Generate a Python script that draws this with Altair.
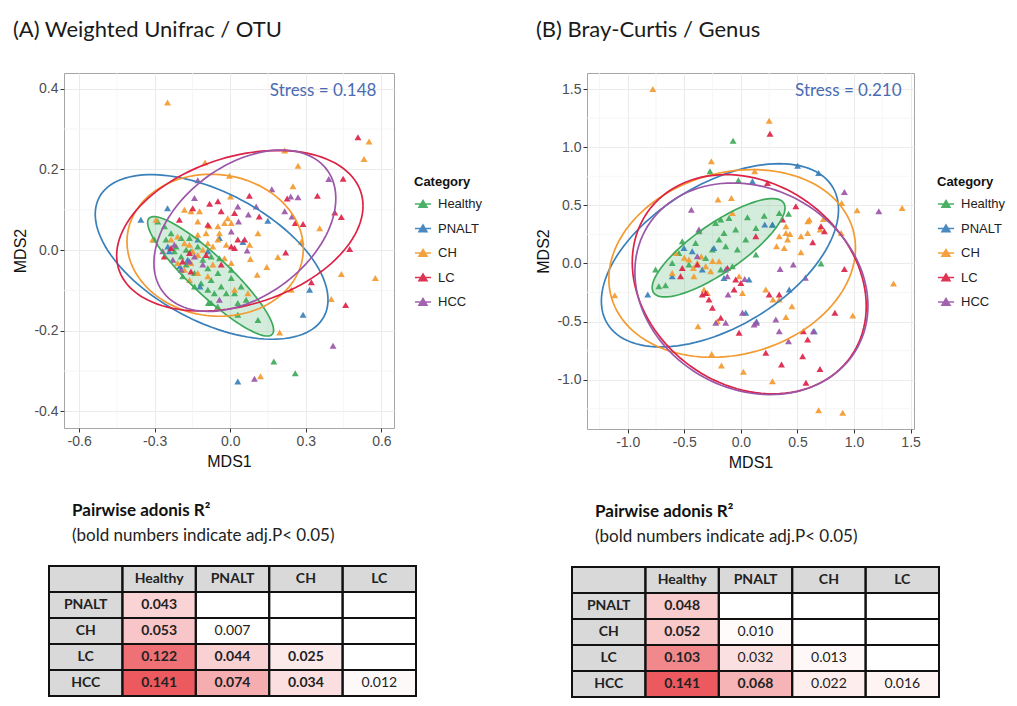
import altair as alt
import pandas as pd

CATS = ["Healthy", "PNALT", "CH", "LC", "HCC"]
COLORS = ["#3DAA5A", "#3A80BA", "#F39A30", "#DC2346", "#9B56A8"]

# ---------------- Panel A: Weighted Unifrac / OTU (MDS1, MDS2) ----------------
A_POINTS = {
    "Healthy": [(-0.261, 0.059), (-0.235, 0.042), (-0.255, 0.026), (-0.215, 0.009), (-0.195, -0.016),
                (-0.175, -0.036), (-0.189, -0.065), (-0.142, -0.057), (-0.109, -0.024), (-0.089, -0.045),
                (-0.076, -0.074), (-0.049, -0.057), (-0.036, -0.090), (0.004, -0.069), (-0.016, -0.107),
                (0.017, -0.107), (0.043, -0.090), (0.030, -0.131), (0.063, -0.123), (-0.089, -0.098),
                (-0.063, -0.107), (-0.142, -0.090), (-0.116, -0.082), (-0.156, -0.003), (-0.175, 0.001),
                (-0.129, 0.009), (-0.076, -0.016), (-0.043, -0.020), (0.004, -0.049), (-0.076, -0.131),
                (0.030, -0.160), (0.110, -0.173), (-0.195, 0.030), (-0.162, 0.030), (-0.222, -0.003),
                (0.173, -0.276), (0.258, -0.305), (-0.301, 0.026), (-0.288, 0.071), (-0.087, -0.131),
                (-0.050, -0.140)],
    "PNALT": [(-0.355, 0.075), (-0.249, 0.104), (0.149, 0.073), (0.315, -0.098), (0.289, -0.160),
              (0.030, -0.326), (-0.242, -0.003), (-0.129, 0.026), (-0.169, -0.024), (-0.248, 0.009),
              (-0.089, -0.003), (-0.043, 0.030), (-0.200, -0.040), (-0.120, -0.090), (0.050, 0.020)],
    "CH": [(-0.249, 0.366), (0.551, 0.269), (0.531, 0.226), (0.216, 0.247), (-0.100, 0.217), (0.269, 0.209),
           (-0.003, 0.184), (0.249, 0.158), (0.001, 0.133), (0.355, 0.054), (0.282, 0.021), (0.189, -0.017),
           (0.080, -0.022), (0.145, -0.042), (0.107, -0.061), (0.441, -0.059), (0.576, -0.069), (0.242, -0.098),
           (0.401, -0.121), (0.196, -0.204), (0.120, -0.313), (-0.295, 0.075), (-0.308, 0.026),
           (-0.235, 0.026), (-0.209, 0.034), (-0.182, 0.017), (-0.162, 0.013), (-0.149, -0.003),
           (-0.129, -0.012), (-0.109, 0.001), (-0.089, 0.017), (-0.069, 0.009), (-0.049, 0.026),
           (-0.043, 0.042), (-0.096, 0.042), (-0.129, 0.038), (-0.156, -0.032), (-0.129, -0.057),
           (-0.162, -0.074), (-0.182, -0.049), (-0.209, -0.032), (-0.069, -0.036), (-0.023, -0.020),
           (0.004, -0.032), (-0.089, -0.065), (0.017, -0.098), (0.070, -0.107), (-0.182, 0.100),
           (-0.156, 0.096), (-0.122, 0.096), (-0.129, 0.071), (-0.083, 0.059), (-0.049, 0.059),
           (-0.023, 0.067), (0.004, 0.067), (-0.010, 0.079), (0.077, 0.013), (0.110, 0.042), (-0.016, 0.013)],
    "LC": [(0.507, 0.280), (0.448, 0.177), (0.346, 0.135), (0.226, 0.128), (0.076, 0.135), (0.115, 0.083),
           (0.258, 0.067), (0.289, 0.065), (0.415, 0.093), (0.441, 0.082), (0.474, 0.003), (0.220, -0.006),
           (0.322, -0.080), (0.458, -0.136), (-0.082, 0.115), (-0.049, 0.121), (-0.149, 0.104), (-0.036, 0.096),
           (0.017, 0.092), (-0.202, 0.075), (-0.089, 0.063), (0.030, 0.026), (0.057, 0.026), (0.004, 0.009),
           (0.017, 0.005), (-0.235, 0.005), (-0.162, -0.007), (-0.096, -0.012), (-0.036, -0.036),
           (-0.189, -0.028), (-0.156, -0.053), (-0.262, -0.016)],
    "HCC": [(-0.129, 0.173), (0.165, 0.151), (0.240, 0.133), (0.269, 0.131), (0.103, 0.108), (0.072, 0.088),
            (0.033, 0.071), (0.216, 0.096), (0.245, 0.083), (0.067, -0.001), (0.408, -0.237), (0.096, -0.319),
            (-0.142, 0.129), (0.030, 0.108), (0.004, 0.046), (-0.228, -0.024), (-0.195, -0.049),
            (-0.142, -0.016), (-0.109, -0.036), (-0.043, -0.123), (-0.162, -0.028), (-0.268, -0.003),
            (-0.222, 0.013), (0.391, 0.176)],
}
# ellipse: centre, half-width, half-height, correlation (x of top point relative to centre / half-width)
A_ELL = {"Category": CATS,
         "cx": [-0.078, -0.074, -0.060, 0.038, 0.058],
         "cy": [-0.065, -0.017, 0.012, 0.048, 0.048],
         "rx": [0.250, 0.462, 0.350, 0.489, 0.361],
         "ry": [0.148, 0.204, 0.176, 0.199, 0.200],
         "r": [-0.90, -0.52, -0.05, 0.31, 0.40]}
A_XDOMAIN = [-0.66, 0.65]
A_YDOMAIN = [-0.441, 0.439]
A_XTICKS = [-0.6, -0.3, 0.0, 0.3, 0.6]
A_YTICKS = [-0.4, -0.2, 0.0, 0.2, 0.4]
A_XMINOR = [-0.45, -0.15, 0.15, 0.45]
A_YMINOR = [-0.3, -0.1, 0.1, 0.3]
A_STRESS = {"x": [0.58], "y": [0.395], "label": ["Stress = 0.148"]}
A_TITLE = "(A) Weighted Unifrac / OTU"

# ---------------- Panel B: Bray-Curtis / Genus ----------------
B_POINTS = {
    "Healthy": [(-0.069, 1.056), (-0.273, 0.792), (-0.022, 0.715), (0.421, 0.428), (0.058, 0.397),
                (0.206, 0.411), (0.339, 0.434), (0.708, -0.001), (-0.666, -0.188), (-0.754, -0.053),
                (-0.178, 0.377), (-0.105, 0.391), (0.279, 0.333), (0.133, 0.305), (-0.046, 0.291),
                (-0.149, 0.262), (-0.223, 0.348), (-0.371, 0.276), (-0.518, 0.190), (-0.400, 0.176),
                (-0.252, 0.119), (-0.134, 0.148), (-0.031, 0.119), (-0.193, 0.205), (-0.311, 0.047),
                (-0.459, -0.010), (-0.607, 0.004), (-0.725, -0.196), (-0.075, -0.024), (0.043, 0.205),
                (0.133, 0.076), (-0.178, -0.053), (-0.548, 0.090)],
    "PNALT": [(0.501, 0.841), (0.102, 0.706), (0.687, 0.778), (-0.823, -0.268), (0.279, 0.334), (0.211, 0.334),
              (0.043, -0.425), (0.138, -0.497), (0.427, -0.225), (0.649, -0.583), (0.072, -0.139),
              (-0.503, 0.133), (-0.238, 0.133), (-0.607, -0.110), (-0.149, -0.125), (-0.341, -0.053),
              (-0.430, 0.105)],
    "CH": [(-0.778, 1.500), (0.250, 1.228), (-0.261, 0.878), (0.122, 0.792), (-0.202, 0.549), (-0.084, 0.563),
           (-0.075, 0.434), (0.891, 0.520), (1.027, 0.457), (1.425, 0.477), (1.349, -0.173), (0.989, -0.448),
           (-0.379, -0.540), (-0.258, -0.778), (-0.172, -0.878), (0.022, -0.932), (0.279, -1.013),
           (0.687, -1.262), (0.900, -1.285), (-1.115, -0.274), (0.284, -0.311), (0.451, -0.368),
           (0.398, -0.460), (-0.208, -0.497), (0.886, 0.262), (0.605, 0.377), (0.700, 0.291), (0.531, 0.096),
           (0.315, 0.148), (0.383, 0.133), (0.413, 0.205), (0.433, 0.254), (0.590, 0.262), (0.729, 0.383),
           (0.220, -0.225), (0.339, 0.233), (0.398, 0.319), (-0.577, 0.090), (-0.459, 0.033), (-0.385, 0.004),
           (-0.311, -0.024), (-0.267, -0.067), (-0.193, 0.019), (-0.326, -0.225), (-0.296, -0.254),
           (-0.415, -0.110), (-0.607, -0.082), (-0.016, -0.110), (0.014, -0.254), (0.398, 0.262),
           (0.531, 0.233), (0.591, 0.362), (0.339, -0.311), (-0.500, 0.050), (-0.420, -0.040),
           (-0.350, 0.060), (-0.250, 0.020)],
    "LC": [(0.257, 1.116), (0.486, 0.491), (0.635, 0.182), (0.708, 0.319), (0.915, -0.047), (0.339, -0.268),
           (-0.016, -0.597), (0.220, -0.769), (0.359, -0.870), (0.546, -0.798), (0.552, -0.583), (0.590, -0.655),
           (0.575, -1.027), (0.699, -0.907), (0.831, -0.425), (0.235, 0.692), (-0.046, -0.139), (0.000, -0.168),
           (-0.311, -0.254), (-0.282, -0.311), (-0.252, -0.382), (-0.178, -0.468), (0.132, 0.234), (0.368, 0.377),
           (-0.341, -0.268), (-0.060, -0.225), (-0.533, -0.110), (-0.518, -0.039), (-0.385, -0.010),
           (-0.119, -0.039), (0.738, 0.276), (0.250, -0.268)],
    "HCC": [(-0.438, 0.462), (0.915, 0.615), (1.219, 0.449), (0.347, -0.047), (0.463, -0.010), (0.570, -0.124),
            (0.034, -0.133), (-0.113, -0.268), (-0.222, -0.511), (-0.134, -0.511), (0.138, -0.511),
            (0.309, -0.482), (0.339, -0.583), (0.421, -0.669), (0.640, -0.583), (-0.120, -0.110),
            (-0.371, 0.291), (0.014, -0.425), (0.117, -0.525), (-0.385, 0.062), (-0.134, -0.053)],
}
B_ELL = {"Category": CATS,
         "cx": [-0.197, -0.185, -0.077, 0.074, 0.093],
         "cy": [0.135, 0.070, 0.000, -0.179, -0.218],
         "rx": [0.587, 1.048, 1.090, 1.034, 1.030],
         "ry": [0.423, 0.788, 0.807, 0.943, 0.910],
         "r": [0.81, 0.50, 0.165, -0.20, -0.16]}
B_XDOMAIN = [-1.36, 1.53]
B_YDOMAIN = [-1.424, 1.638]
B_XTICKS = [-1.0, -0.5, 0.0, 0.5, 1.0, 1.5]
B_YTICKS = [-1.0, -0.5, 0.0, 0.5, 1.0, 1.5]
B_XMINOR = [-1.25, -0.75, -0.25, 0.25, 0.75, 1.25]
B_YMINOR = [-1.25, -0.75, -0.25, 0.25, 0.75, 1.25]
B_STRESS = {"x": [1.42], "y": [1.485], "label": ["Stress = 0.210"]}
B_TITLE = "(B) Bray-Curtis / Genus"

# ---------------- Pairwise adonis R2 tables ----------------
TABLE_COLS = ["Healthy", "PNALT", "CH", "LC"]
TABLE_ROWS = ["PNALT", "CH", "LC", "HCC"]
A_R2 = [[0.043], [0.053, 0.007], [0.122, 0.044, 0.025], [0.141, 0.074, 0.034, 0.012]]
A_BOLD = [[1], [1, 0], [1, 1, 1], [1, 1, 1, 0]]
B_R2 = [[0.048], [0.052, 0.010], [0.103, 0.032, 0.013], [0.141, 0.068, 0.022, 0.016]]
B_BOLD = [[1], [1, 0], [1, 0, 0], [1, 1, 0, 0]]

T_DEG = list(range(0, 361, 3))
T_HALF = list(range(0, 181, 3))

FONT = "Liberation Sans"
TFONT = "Lato"


def scatter(points, ell, xdom, ydom, xt, yt, xminor, yminor, stress, title, w, h, lx, ly):
    pts = pd.DataFrame([{"x": x, "y": y, "Category": c} for c in CATS for (x, y) in points[c]])
    edf = pd.DataFrame(ell)
    edf["t"] = [T_DEG] * len(edf)
    fdf = pd.DataFrame(ell).iloc[[0]].copy()
    fdf["t"] = [T_HALF]
    lab = "datum.value < 0 ? '-' + format(-datum.value, '.1f') : format(datum.value, '.1f')"
    xs = alt.Scale(domain=xdom, nice=False, zero=False)
    ys = alt.Scale(domain=ydom, nice=False, zero=False)
    X = alt.X("x:Q", scale=xs, title="MDS1",
              axis=alt.Axis(values=xt, labelExpr=lab, grid=True))
    Y = alt.Y("y:Q", scale=ys, title="MDS2",
              axis=alt.Axis(values=yt, labelExpr=lab, grid=True))
    color = alt.Color("Category:N", scale=alt.Scale(domain=CATS, range=COLORS),
                      legend=alt.Legend(title="Category", orient="none", legendX=lx, legendY=ly,
                                        symbolType="M-1,0L1,0M-0.5,0.4L0,-0.45L0.5,0.4Z",
                                        symbolSize=260, symbolStrokeWidth=1.5,
                                        titleFontSize=13, titleFont=FONT, titleFontWeight="bold",
                                        labelFontSize=13, labelFont=FONT, labelColor="#222",
                                        titleColor="#111", rowPadding=8.5, titlePadding=6, labelOffset=6))
    mx = alt.Chart(pd.DataFrame({"x": xminor})).mark_rule(color="#F4F4F4", strokeWidth=0.8).encode(x=X)
    my = alt.Chart(pd.DataFrame({"y": yminor})).mark_rule(color="#F4F4F4", strokeWidth=0.8).encode(y=Y)
    fill = (alt.Chart(fdf).transform_flatten(["t"])
            .transform_calculate(x="datum.cx + datum.rx*cos(datum.t*PI/180)",
                                 y="datum.cy + datum.ry*cos(datum.t*PI/180 + acos(datum.r))",
                                 y2="datum.cy + datum.ry*cos(datum.t*PI/180 - acos(datum.r))")
            .mark_area(color="#45AE6E", opacity=0.24)
            .encode(x=X, y=Y, y2="y2:Q"))
    dots = alt.Chart(pts).mark_point(shape="triangle-up", filled=True, size=48, opacity=0.92,
                                     strokeWidth=0).encode(x=X, y=Y, color=color)
    lines = (alt.Chart(edf).transform_flatten(["t"])
             .transform_calculate(x="datum.cx + datum.rx*cos(datum.t*PI/180)",
                                  y="datum.cy + datum.ry*cos(datum.t*PI/180 + acos(datum.r))")
             .mark_line(strokeWidth=1.7)
             .encode(x=X, y=Y, color=color, order=alt.Order("t:Q"), detail="Category:N"))
    txt = alt.Chart(pd.DataFrame(stress)).mark_text(align="right", baseline="middle", font=TFONT,
                                                     fontSize=17, color="#4A6BB3").encode(
        x=X, y=Y, text="label:N")
    return alt.layer(mx, my, fill, dots, lines, txt).properties(
        width=w, height=h,
        title=alt.TitleParams(title, anchor="start", frame="bounds", fontSize=22, font=TFONT,
                              fontWeight="normal", color="#1a1a1a", offset=31))


def table(r2, bold):
    rows = []
    rows.append({"col": "corner", "row": "hdr", "label": "", "kind": "header", "value": None})
    for c in TABLE_COLS:
        rows.append({"col": c, "row": "hdr", "label": c, "kind": "header", "value": None})
    for i, r in enumerate(TABLE_ROWS):
        rows.append({"col": "corner", "row": r, "label": r, "kind": "header", "value": None})
        for j, c in enumerate(TABLE_COLS):
            if j < len(r2[i]):
                v = r2[i][j]
                rows.append({"col": c, "row": r, "label": f"{v:.3f}",
                             "kind": "bold" if bold[i][j] else "plain", "value": v})
            else:
                rows.append({"col": c, "row": r, "label": "", "kind": "empty", "value": None})
    df = pd.DataFrame(rows)
    xs = alt.Scale(domain=["corner"] + TABLE_COLS, range=[-15, 352], paddingInner=0, paddingOuter=0)
    ys = alt.Scale(domain=["hdr"] + TABLE_ROWS, paddingInner=0, paddingOuter=0)
    base = alt.Chart(df).encode(x=alt.X("col:N", scale=xs, axis=None),
                                y=alt.Y("row:N", scale=ys, axis=None))
    white = base.mark_rect(fill="white")
    hdr = base.transform_filter("datum.kind == 'header'").mark_rect(fill="#D9D9D9")
    val = base.transform_filter("isValid(datum.value)").mark_rect().encode(
        fill=alt.Fill("value:Q",
                      scale=alt.Scale(domain=[0.007, 0.141], range=["#FFFFFF", "#EC5A5F"],
                                      interpolate="rgb", zero=False, nice=False),
                      legend=None))
    border = base.mark_rect(fillOpacity=0, stroke="#111", strokeWidth=2)
    tb = base.transform_filter("datum.kind == 'header' || datum.kind == 'bold'").mark_text(
        font=TFONT, fontSize=14, fontWeight="bold", color="#222").encode(text="label:N")
    tp = base.transform_filter("datum.kind == 'plain'").mark_text(
        font=TFONT, fontSize=14, fontWeight="normal", color="#222").encode(text="label:N")
    return alt.layer(white, hdr, val, border, tb, tp).properties(
        width=352, height=130, view=alt.ViewBackground(stroke="transparent"),
        title=alt.TitleParams("Pairwise adonis R²", subtitle="(bold numbers indicate adj.P< 0.05)",
                              anchor="start", frame="group", dx=8, fontSize=17, fontWeight="bold",
                              font=TFONT, color="#111", subtitleFont=TFONT, subtitleFontSize=17,
                              subtitleColor="#222", subtitlePadding=8, offset=20))


sA = scatter(A_POINTS, A_ELL, A_XDOMAIN, A_YDOMAIN, A_XTICKS, A_YTICKS, A_XMINOR, A_YMINOR,
             A_STRESS, A_TITLE, 330, 355, 350, 103)
sB = scatter(B_POINTS, B_ELL, B_XDOMAIN, B_YDOMAIN, B_XTICKS, B_YTICKS, B_XMINOR, B_YMINOR,
             B_STRESS, B_TITLE, 327, 356, 350, 103)
tA = table(A_R2, A_BOLD)
tB = table(B_R2, B_BOLD)

colA = alt.vconcat(sA, tA, spacing=31)
colB = alt.vconcat(sB, tB, spacing=31)

chart = (alt.hconcat(colA, colB, spacing=52)
         .resolve_scale(color="independent")
         .resolve_legend(color="independent")
         .properties(padding={"left": 4, "top": 10, "right": 0, "bottom": 0})
         .configure_view(stroke="#A6A6A6", strokeWidth=1)
         .configure_axis(domain=False, tickColor="#333333", tickSize=4, labelPadding=2,
                         labelFont=FONT, labelFontSize=14, labelColor="#4D4D4D",
                         titleFont=FONT, titleFontSize=16, titleFontWeight="normal", titleColor="#111",
                         titlePadding=5, gridColor="#EBEBEB", gridWidth=1))

chart.save("out.html", embed_options={"renderer": "svg", "actions": False})
